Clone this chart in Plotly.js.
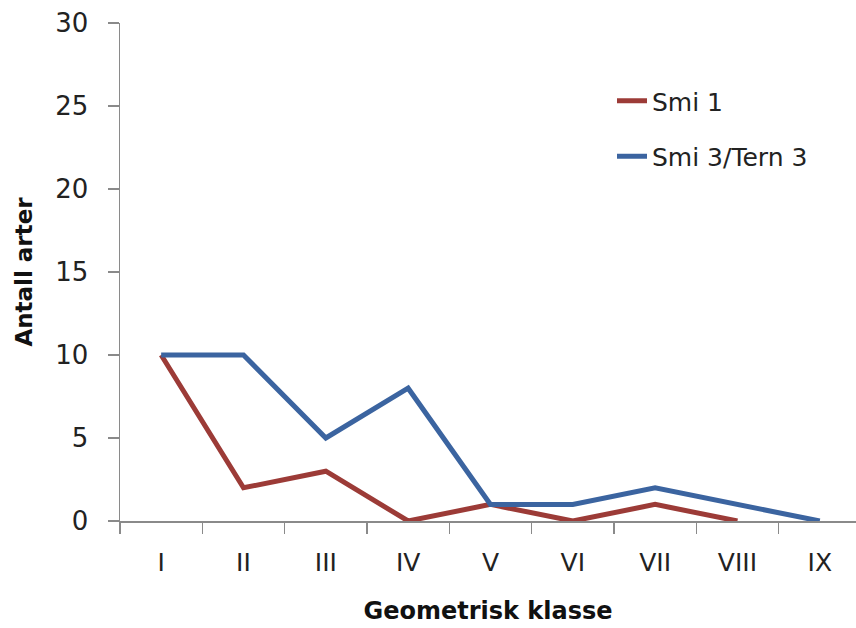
<!DOCTYPE html>
<html>
<head>
<meta charset="utf-8">
<script src="https://cdn.plot.ly/plotly-3.0.1.min.js"></script>
<style>html,body{margin:0;padding:0;background:#fff;}#chart{width:856px;height:628px;}</style>
</head>
<body>
<div id="chart"></div>
<script>
const categories = ["I","II","III","IV","V","VI","VII","VIII","IX"];
const smi1 = [10, 2, 3, 0, 1, 0, 1, 0, null];
const smi3tern3 = [10, 10, 5, 8, 1, 1, 2, 1, 0];
const seriesNames = ["Smi 1", "Smi 3/Tern 3"];
const yTicks = [0, 5, 10, 15, 20, 25, 30];

const traces = [
  {x: categories, y: smi1, name: seriesNames[0], type: "scatter", mode: "lines",
   line: {color: "#9C3B37", width: 5}, legendgroup: "a", connectgaps: false},
  {x: categories, y: smi3tern3, name: seriesNames[1], type: "scatter", mode: "lines",
   line: {color: "#3B64A0", width: 5}, legendgroup: "b"}
];

const layout = {
  width: 856, height: 628,
  margin: {l: 120, r: 0, t: 23, b: 107},
  paper_bgcolor: "#fff", plot_bgcolor: "#fff",
  font: {family: "DejaVu Sans", color: "#222"},
  showlegend: true,
  legend: {x: (612-120)/736, xanchor: "left", y: 1 - (78-23)/498, yanchor: "top",
           font: {size: 25, color: "#222", family: "DejaVu Sans"},
           tracegroupgap: 20, traceorder: "grouped", bgcolor: "rgba(0,0,0,0)"},
  xaxis: {
    type: "category", categoryorder: "array", categoryarray: categories,
    range: [-0.5, 8.44], tickson: "boundaries",
    showgrid: false, zeroline: false, showline: true, linecolor: "#8a8a8a", linewidth: 1.5,
    ticks: "outside", ticklen: 11, tickcolor: "#8a8a8a", tickwidth: 1.5,
    tickfont: {size: 25, color: "#222"}, ticklabelstandoff: 18,
    title: {text: "<b>Geometrisk klasse</b>", font: {size: 24, color: "#111"}, standoff: 26}
  },
  yaxis: {
    range: [0, 30], tickvals: yTicks, ticktext: yTicks.map(String),
    showgrid: false, zeroline: false, showline: true, linecolor: "#8a8a8a", linewidth: 1.5,
    ticks: "outside", ticklen: 11, tickcolor: "#8a8a8a", tickwidth: 1.5,
    tickfont: {size: 26, color: "#222"}, ticklabelstandoff: 14,
    title: {text: "<b>Antall arter</b>", font: {size: 23, color: "#111"}, standoff: 16}
  }
};

Plotly.newPlot("chart", traces, layout, {displayModeBar: false, staticPlot: true});
</script>
</body>
</html>
